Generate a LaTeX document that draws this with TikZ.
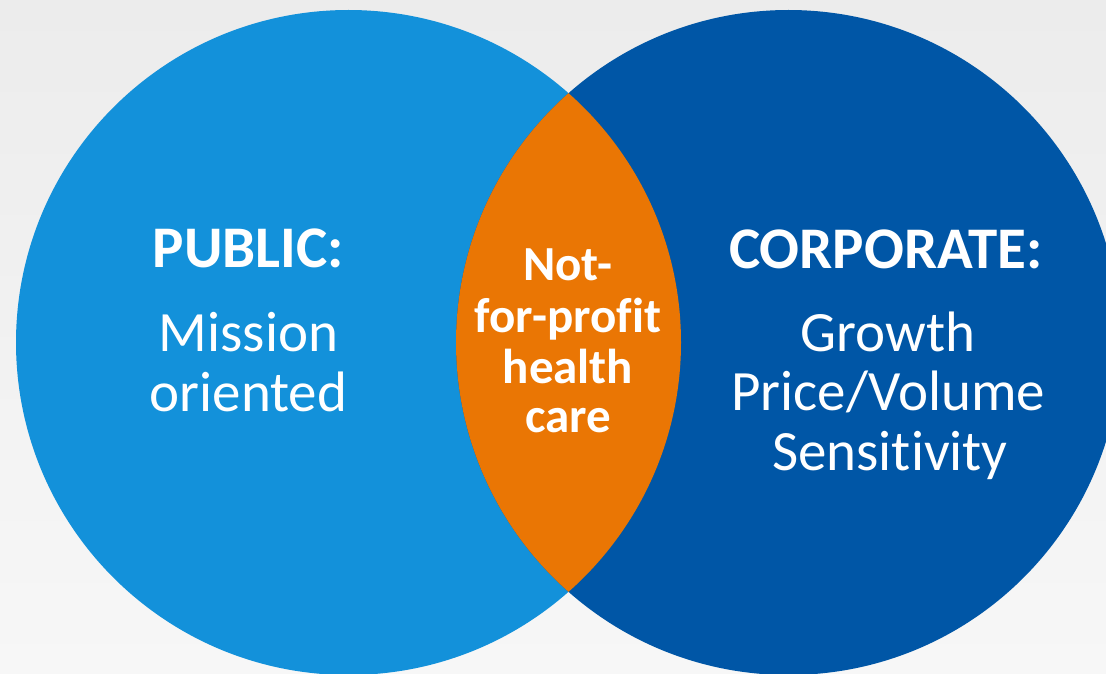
\documentclass[tikz,border=0pt]{standalone}
\usepackage{fontspec}
\setmainfont{Carlito}[Ligatures={NoCommon}]
\definecolor{bgtop}{HTML}{ECECEC}
\definecolor{bgbot}{HTML}{F7F7F7}
\definecolor{pubblue}{HTML}{1391DA}
\definecolor{corpblue}{HTML}{0056A6}
\definecolor{nfporange}{HTML}{EA7604}
\tikzset{
  bigcirc/.style={circle, minimum size=665pt, inner sep=0pt, draw=none},
  titletxt/.style={text=white, anchor=base, inner sep=0pt, font=\bfseries\fontsize{59}{60}\selectfont},
  bodytxt/.style={text=white, anchor=base, inner sep=0pt, font=\fontsize{57}{60}\selectfont},
  lenstxt/.style={text=white, anchor=base, inner sep=0pt, font=\bfseries\fontsize{49}{50}\selectfont}
}
\begin{document}
\begin{tikzpicture}[x=1pt,y=-1pt]
\useasboundingbox (0,0) rectangle (1106,674);
\clip (0,0) rectangle (1106,674);
\shade[top color=bgtop, bottom color=bgbot] (0,0) rectangle (1106,674);
\node[bigcirc, fill=pubblue] (pub) at (348.5,342.5) {};
\node[bigcirc, fill=corpblue] (corp) at (788.5,342.5) {};
\begin{scope}
  \clip (348.5,342.5) circle (332.5pt);
  \fill[nfporange] (788.5,342.5) circle (332.5pt);
\end{scope}
\node[titletxt] (pubT) at (248.5,267) {PUBLIC:};
\node[bodytxt] (pubA) at (248.5,351) {Mission};
\node[bodytxt] (pubB) at (248.5,411) {oriented};
\node[titletxt] (corpT) at (886,268) {CORPORATE:};
\node[bodytxt] (corpA) at (888,351) {Growth};
\node[bodytxt] (corpB) at (888,410) {Price/Volume};
\node[bodytxt] (corpC) at (890,470) {Sensitivity};
\node[lenstxt] (nfpA) at (568,280) {Not-};
\node[lenstxt] (nfpB) at (568,332) {for-profit};
\node[lenstxt] (nfpC) at (568,383) {health};
\node[lenstxt] (nfpD) at (568,432) {care};
\end{tikzpicture}
\end{document}
